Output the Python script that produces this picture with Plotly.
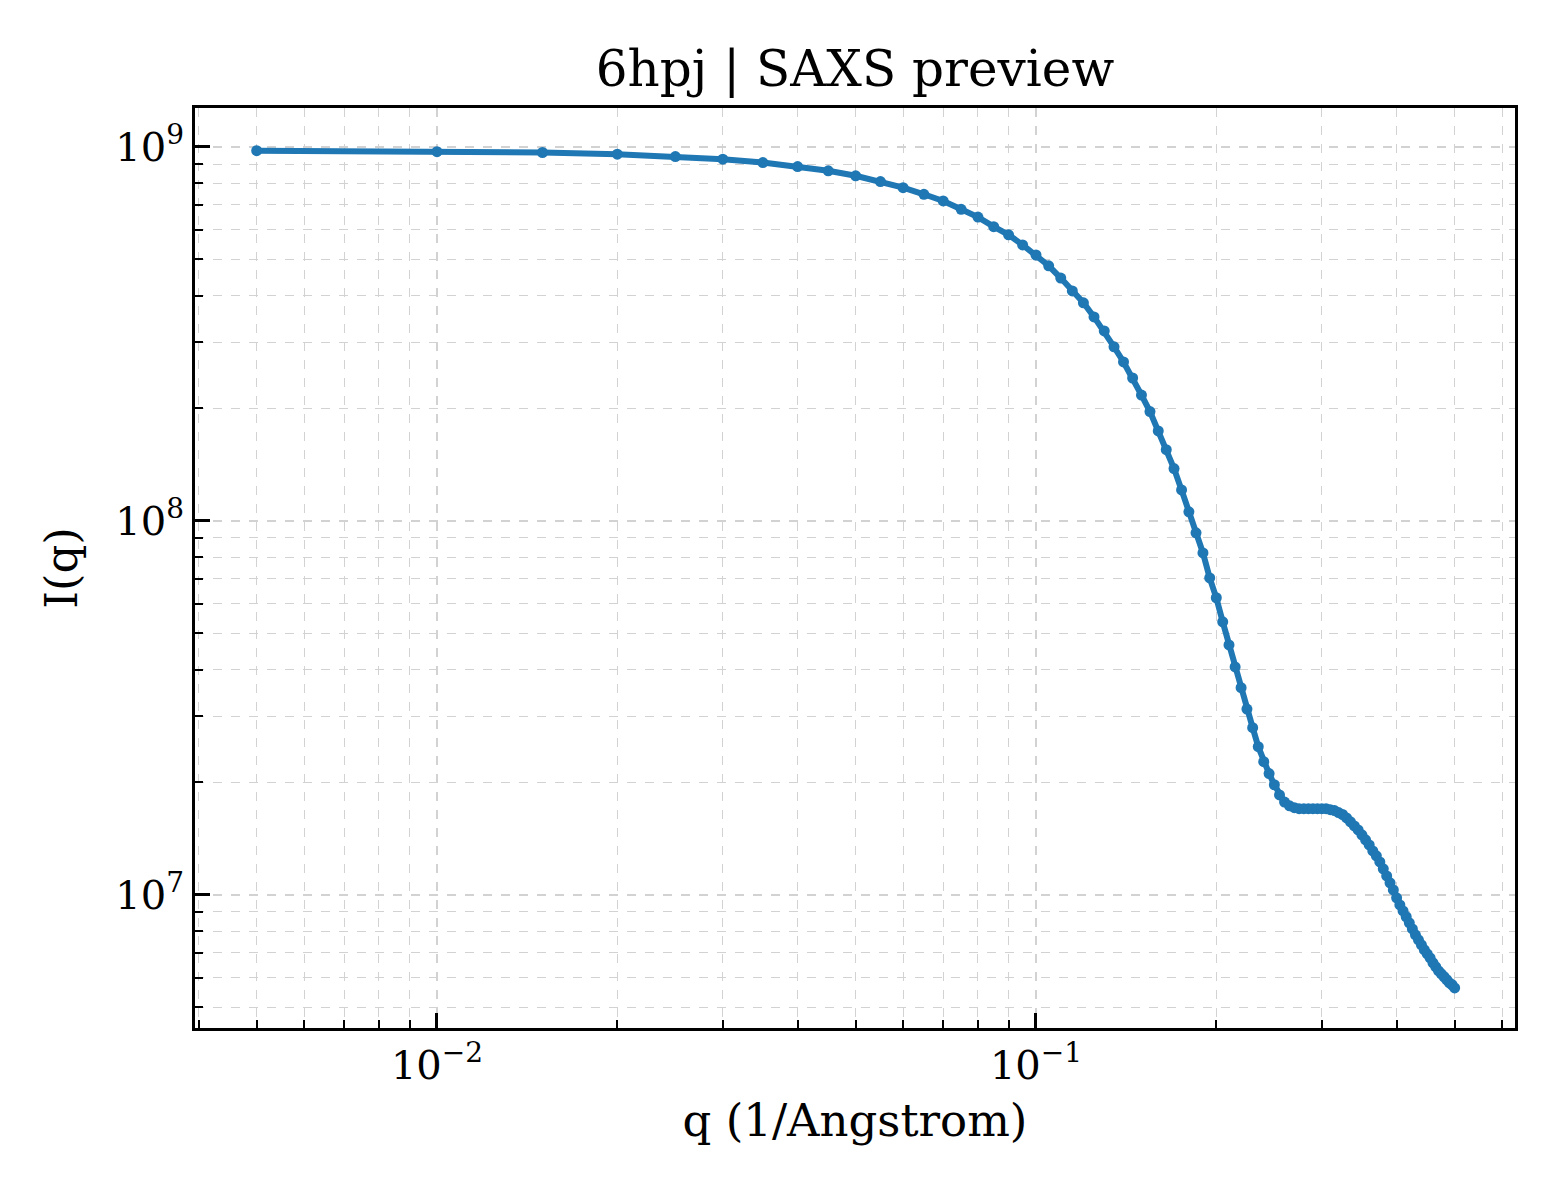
"""SAXS preview curve (Plotly)."""

import plotly.graph_objs as go

# q grid (1/Angstrom) and intensities
q_values = [
    0.005, 0.010, 0.015, 0.020, 0.025, 0.030, 0.035, 0.040, 0.045, 0.050,
    0.055, 0.060, 0.065, 0.070, 0.075, 0.080, 0.085, 0.090, 0.095, 0.100,
    0.105, 0.110, 0.115, 0.120, 0.125, 0.130, 0.135, 0.140, 0.145, 0.150,
    0.155, 0.160, 0.165, 0.170, 0.175, 0.180, 0.185, 0.190, 0.195, 0.200,
    0.205, 0.210, 0.215, 0.220, 0.225, 0.230, 0.235, 0.240, 0.245, 0.250,
    0.255, 0.260, 0.265, 0.270, 0.275, 0.280, 0.285, 0.290, 0.295, 0.300,
    0.305, 0.310, 0.315, 0.320, 0.325, 0.330, 0.335, 0.340, 0.345, 0.350,
    0.355, 0.360, 0.365, 0.370, 0.375, 0.380, 0.385, 0.390, 0.395, 0.400,
    0.405, 0.410, 0.415, 0.420, 0.425, 0.430, 0.435, 0.440, 0.445, 0.450,
    0.455, 0.460, 0.465, 0.470, 0.475, 0.480, 0.485, 0.490, 0.495, 0.500,
]

intensity = [
    9.77e8, 9.71e8, 9.66e8, 9.56e8, 9.42e8, 9.27e8, 9.08e8, 8.86e8, 8.63e8, 8.37e8,
    8.08e8, 7.78e8, 7.47e8, 7.17e8, 6.81e8, 6.49e8, 6.12e8, 5.82e8, 5.47e8, 5.14e8,
    4.81e8, 4.46e8, 4.12e8, 3.83e8, 3.51e8, 3.22e8, 2.92e8, 2.66e8, 2.41e8, 2.17e8,
    1.96e8, 1.74e8, 1.55e8, 1.38e8, 1.21e8, 1.057e8, 9.29e7, 8.21e7, 7.04e7, 6.23e7,
    5.37e7, 4.66e7, 4.07e7, 3.58e7, 3.14e7, 2.80e7, 2.49e7, 2.27e7, 2.11e7, 1.97e7,
    1.85e7, 1.77e7, 1.73e7, 1.71e7, 1.70e7, 1.70e7, 1.70e7, 1.70e7, 1.70e7, 1.70e7,
    1.70e7, 1.69e7, 1.68e7, 1.66e7, 1.64e7, 1.606e7, 1.568e7, 1.529e7, 1.492e7, 1.447e7,
    1.403e7, 1.360e7, 1.311e7, 1.272e7, 1.225e7, 1.174e7, 1.124e7, 1.077e7, 1.031e7, 9.82e6,
    9.40e6, 9.06e6, 8.74e6, 8.42e6, 8.11e6, 7.82e6, 7.58e6, 7.35e6, 7.13e6, 6.95e6,
    6.78e6, 6.58e6, 6.42e6, 6.26e6, 6.15e6, 6.04e6, 5.93e6, 5.82e6, 5.75e6, 5.64e6,
]

x_tickvals = [1e-2, 1e-1]
x_ticktext = ["10<sup>\u22122</sup>", "10<sup>\u22121</sup>"]
y_tickvals = [1e7, 1e8, 1e9]
y_ticktext = ["10<sup>7</sup>", "10<sup>8</sup>", "10<sup>9</sup>"]

x_minor = [m * 10.0 ** e for e in (-3, -2, -1) for m in range(2, 10)]
y_minor = [m * 10.0 ** e for e in (6, 7, 8) for m in range(2, 10)]

FONT = "DejaVu Serif"
GRID = "#d2d2d2"

fig = go.Figure()
fig.add_trace(go.Scatter(
    x=q_values,
    y=intensity,
    mode="lines+markers",
    line=dict(color="#1f77b4", width=6),
    marker=dict(color="#1f77b4", size=11),
    showlegend=False,
))

axis_common = dict(
    type="log",
    tickmode="array",
    showline=True,
    linecolor="black",
    linewidth=3,
    mirror=True,
    ticks="inside",
    ticklen=15,
    tickwidth=2.5,
    tickcolor="black",
    showgrid=True,
    gridcolor=GRID,
    gridwidth=1.5,
    griddash="dash",
    zeroline=False,
    tickfont=dict(family=FONT, size=40, color="black"),
)

fig.update_xaxes(
    **axis_common,
    range=[-2.404, -0.2003],
    tickvals=x_tickvals,
    ticktext=x_ticktext,
    minor=dict(tickvals=x_minor, ticks="inside", ticklen=8, tickwidth=2,
               tickcolor="black", showgrid=True, gridcolor=GRID,
               gridwidth=1.3, griddash="dash"),
    title=dict(text="q (1/Angstrom)", font=dict(family=FONT, size=45, color="black"),
               standoff=18),
)
fig.update_yaxes(
    **axis_common,
    range=[6.644, 9.104],
    tickvals=y_tickvals,
    ticktext=y_ticktext,
    minor=dict(tickvals=y_minor, ticks="inside", ticklen=8, tickwidth=2,
               tickcolor="black", showgrid=True, gridcolor=GRID,
               gridwidth=1.3, griddash="dash"),
    title=dict(text="I(q)", font=dict(family=FONT, size=45, color="black"),
               standoff=24),
)

fig.update_layout(
    width=1560,
    height=1200,
    margin=dict(l=187, r=53, t=100, b=180),
    paper_bgcolor="white",
    plot_bgcolor="white",
    title=dict(text="6hpj | SAXS preview", font=dict(family=FONT, size=50, color="black"),
               x=0.5, xref="paper", y=1 - 60 / 1200, yref="container", yanchor="middle"),
)

fig.write_html("out.html")
